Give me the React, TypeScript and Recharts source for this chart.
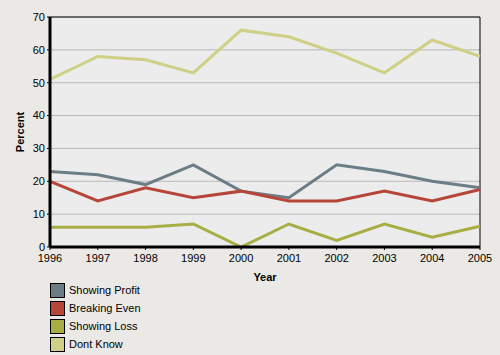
import React from 'react';
import { LineChart, Line, XAxis, YAxis, CartesianGrid, ReferenceArea } from 'recharts';

const years = ['1996', '1997', '1998', '1999', '2000', '2001', '2002', '2003', '2004', '2005'];
const showingProfit = [23, 22, 19, 25, 17, 15, 25, 23, 20, 18];
const breakingEven = [20, 14, 18, 15, 17, 14, 14, 17, 14, 17.5];
const showingLoss = [6, 6, 6, 7, 0, 7, 2, 7, 3, 6.3];
const dontKnow = [51, 58, 57, 53, 66, 64, 59, 53, 63, 58];
const yTicks = [0, 10, 20, 30, 40, 50, 60, 70];

const series = [
  { key: 'profit', name: 'Showing Profit', color: '#6b7e86', values: showingProfit },
  { key: 'even', name: 'Breaking Even', color: '#b7463a', values: breakingEven },
  { key: 'loss', name: 'Showing Loss', color: '#a8ad44', values: showingLoss },
  { key: 'dunno', name: 'Dont Know', color: '#cfcf85', values: dontKnow },
];

const data = years.map((year, i) => {
  const row: Record<string, string | number> = { year };
  series.forEach((s) => {
    row[s.key] = s.values[i];
  });
  return row;
});

const font = '"Liberation Sans", Arial, sans-serif';
const tickStyle = { fill: '#000', fontSize: 11, fontFamily: font };

const App: React.FC = () => {
  return (
    <div style={{ position: 'absolute', left: 0, top: 0, width: 500, height: 355, background: '#ebe9e5', fontFamily: font }}>
      <LineChart width={500} height={355} data={data} margin={{ top: 17, right: 20, left: 0, bottom: 68 }}>
        <CartesianGrid vertical={false} stroke="#b8b8b8" fill="#ececec" />
        <XAxis
          dataKey="year"
          height={40}
          tick={tickStyle}
          tickLine={{ stroke: '#000' }}
          tickSize={3}
          tickMargin={4}
          axisLine={{ stroke: '#000', strokeWidth: 3 }}
          interval={0}
          label={{ value: 'Year', position: 'insideBottom', offset: 6, style: { fontWeight: 'bold', fontSize: 11, fill: '#000', fontFamily: font } }}
        />
        <YAxis
          width={50}
          domain={[0, 70]}
          ticks={yTicks}
          tick={tickStyle}
          tickLine={{ stroke: '#000' }}
          tickSize={3}
          axisLine={{ stroke: '#000', strokeWidth: 3 }}
          label={{ value: 'Percent', angle: -90, position: 'insideLeft', offset: 20, style: { textAnchor: 'middle', fontWeight: 'bold', fontSize: 11, fill: '#000', fontFamily: font } }}
        />
        <ReferenceArea x1="1996" x2="2005" y1={0} y2={70} fill="none" stroke="#000" strokeWidth={1} />
        {series.map((s) => (
          <Line
            key={s.key}
            dataKey={s.key}
            name={s.name}
            stroke={s.color}
            strokeWidth={3}
            dot={false}
            activeDot={false}
            isAnimationActive={false}
          />
        ))}
      </LineChart>
      <div style={{ position: 'absolute', left: 50, top: 281 }}>
        {series.map((s) => (
          <div key={s.key} style={{ display: 'flex', alignItems: 'center', height: 18 }}>
            <span style={{ width: 13, height: 13, background: s.color, border: '1px solid #000', display: 'inline-block' }} />
            <span style={{ marginLeft: 4, fontSize: 11, color: '#000' }}>{s.name}</span>
          </div>
        ))}
      </div>
    </div>
  );
};

export default App;
